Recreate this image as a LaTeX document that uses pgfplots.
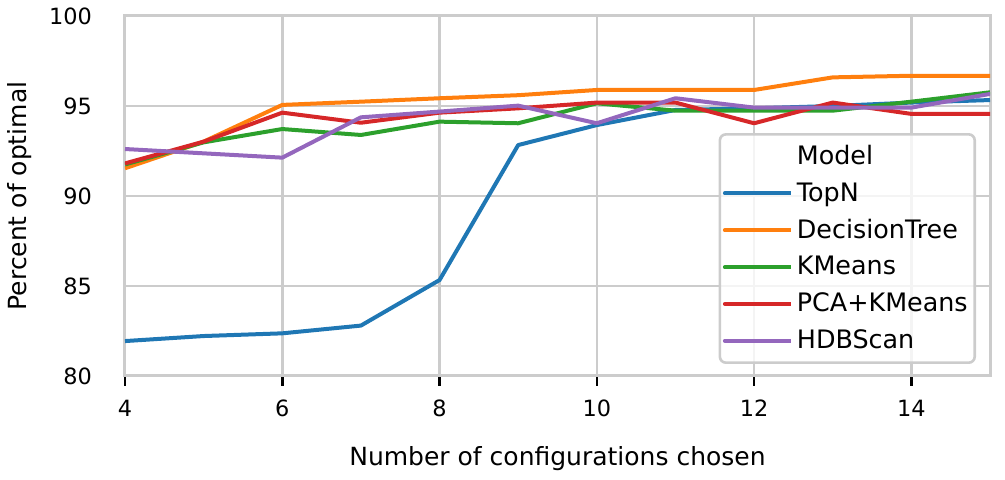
\documentclass[border=0pt]{standalone}
\usepackage{pgfplots}
\pgfplotsset{compat=1.18}
\usepackage{fontspec}
\setmainfont{DejaVu Sans}
\definecolor{c1}{HTML}{1F77B4}
\definecolor{c2}{HTML}{FF7F0E}
\definecolor{c3}{HTML}{2CA02C}
\definecolor{c4}{HTML}{D62728}
\definecolor{c5}{HTML}{9467BD}
\definecolor{gridc}{HTML}{CCCCCC}
\begin{document}
\begin{tikzpicture}
\begin{axis}[
  scale only axis,
  width=432.5pt, height=180pt,
  xmin=4, xmax=15, ymin=80, ymax=100,
  xtick={4,6,8,10,12,14},
  ytick={80,85,90,95,100},
  /pgf/number format/assume math mode=true,
  tick label style={font=\fontsize{11.2}{13}\selectfont},
  label style={font=\fontsize{12.5}{14}\selectfont},
  xlabel={Number of configurations chosen},
  ylabel={Percent of optimal},
  xlabel style={yshift=-8pt},
  ylabel style={yshift=2pt},
  grid=major,
  major grid style={draw=gridc, line width=1.3pt},
  axis line style={draw=gridc, line width=1.5pt},
  tick align=outside,
  xtick pos=bottom,
  ytick pos=left,
  major tick length=5pt,
  xtick style={draw=black, line width=1.3pt},
  ytick style={draw=none},
  xticklabel style={yshift=-3.5pt},
  yticklabel style={xshift=-8pt},
  every axis plot/.append style={line width=2pt, line join=round},
  legend style={at={(1,0)}, anchor=south east, xshift=-7pt, yshift=6pt,
    draw=gridc, line width=1.3pt, rounded corners=3pt, fill=white, fill opacity=0.8, text opacity=1,
    font=\fontsize{12.7}{14}\selectfont, row sep=3.5pt, inner xsep=1.5pt, inner ysep=3.5pt},
  legend cell align=left,
  legend image code/.code={\draw[#1, line cap=round] (0pt,0pt) -- (27pt,0pt); \path (0pt,0pt) -- (33pt,0pt);},
]
\addlegendimage{empty legend}
\addlegendentry{Model}
\addplot[c1] coordinates {(4,81.94) (5,82.22) (6,82.37) (7,82.80) (8,85.33) (9,92.83) (10,93.94) (11,94.78) (12,94.87) (13,95.00) (14,95.19) (15,95.33)};
\addlegendentry{TopN}
\addplot[c2] coordinates {(4,91.54) (5,93.02) (6,95.06) (7,95.24) (8,95.43) (9,95.60) (10,95.89) (11,95.89) (12,95.89) (13,96.59) (14,96.68) (15,96.68)};
\addlegendentry{DecisionTree}
\addplot[c3] coordinates {(4,91.75) (5,92.98) (6,93.72) (7,93.39) (8,94.13) (9,94.04) (10,95.15) (11,94.74) (12,94.74) (13,94.74) (14,95.24) (15,95.76)};
\addlegendentry{KMeans}
\addplot[c4] coordinates {(4,91.81) (5,93.02) (6,94.63) (7,94.07) (8,94.63) (9,94.87) (10,95.19) (11,95.19) (12,94.04) (13,95.19) (14,94.56) (15,94.56)};
\addlegendentry{PCA+KMeans}
\addplot[c5] coordinates {(4,92.61) (5,92.37) (6,92.13) (7,94.37) (8,94.69) (9,95.02) (10,94.04) (11,95.43) (12,94.91) (13,94.91) (14,94.91) (15,95.67)};
\addlegendentry{HDBScan}
\end{axis}
\pgfresetboundingbox
\path (-62.5pt,-52pt) rectangle (440pt,188pt);
\end{tikzpicture}
\end{document}
